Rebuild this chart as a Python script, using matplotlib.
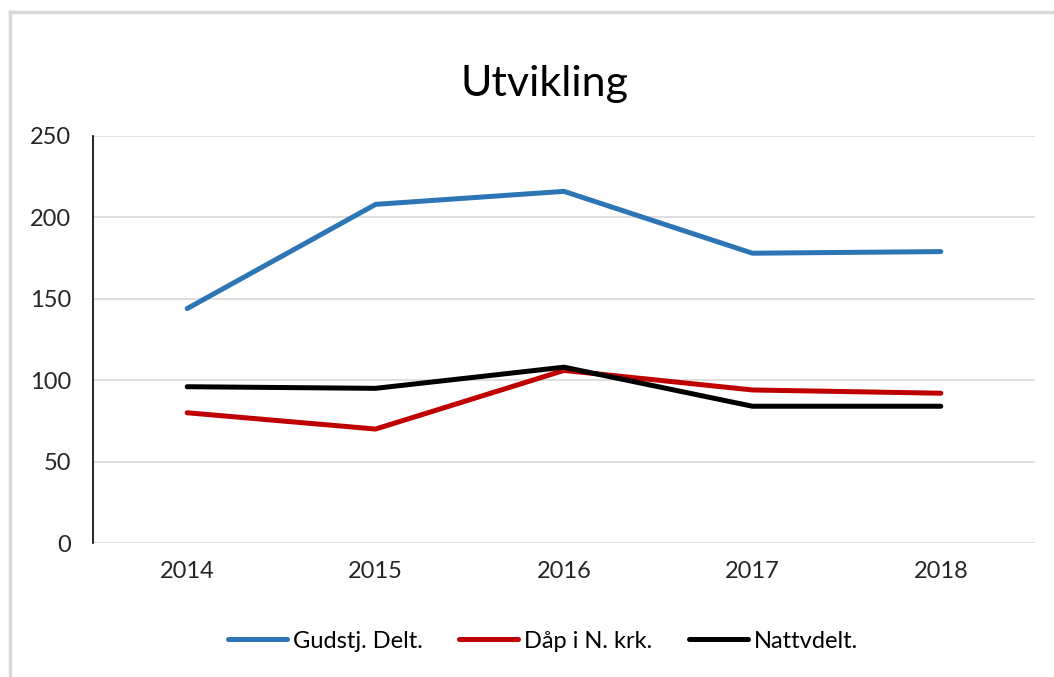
import numpy as np
import matplotlib
matplotlib.use('Agg')
import matplotlib.pyplot as plt
from matplotlib.lines import Line2D

plt.rcParams['font.family'] = ['Lato', 'DejaVu Sans']

years = ['2014', '2015', '2016', '2017', '2018']
gudstj = [144, 208, 216, 178, 179]
daap = [80, 70, 106, 94, 92]
nattvd = [96, 95, 108, 84, 84]
labels = ['Gudstj. Delt.', 'Dåp i N. krk.', 'Nattvdelt.']
colors = ['#2E75B6', '#C00000', '#000000']

fig = plt.figure(figsize=(10.54, 6.77), dpi=100)
ax = fig.add_axes([93/1054, 1 - 543/677, (1035-93)/1054, (543-136)/677])

# outer chart border (only top and left edges visible)
fig.add_artist(Line2D([10/1054, 10/1054], [0, 1 - 12/677], transform=fig.transFigure,
                      color='#D9D9D9', lw=2.5))
fig.add_artist(Line2D([10/1054, 1], [1 - 12/677, 1 - 12/677], transform=fig.transFigure,
                      color='#D9D9D9', lw=2.5))

x = np.arange(len(years))
for vals, lab, c in zip([gudstj, daap, nattvd], labels, colors):
    ax.plot(x, vals, color=c, lw=3.6, label=lab, solid_capstyle='round',
            solid_joinstyle='round')

ax.set_xlim(-0.5, len(years) - 0.5)
ax.set_ylim(0, 250)
ax.set_yticks(np.arange(0, 251, 50))
ax.set_xticks(x)
ax.set_xticklabels(years)
ax.yaxis.grid(True, color='#D9D9D9', lw=1.2)
ax.set_axisbelow(True)
for s in ['top', 'right', 'bottom']:
    ax.spines[s].set_visible(False)
ax.spines['left'].set_color('#000000')
ax.spines['left'].set_linewidth(1.2)
ax.tick_params(axis='both', length=0, labelsize=17, colors='#262626')
ax.tick_params(axis='y', pad=16)
ax.tick_params(axis='x', pad=13)

fig.text(545/1054, 1 - 84/677, 'Utvikling', ha='center', va='center',
         fontsize=31, color='#000000')

fig.legend(loc='center', bbox_to_anchor=(543/1054, 1 - 641/677), ncol=3,
           frameon=False, fontsize=17, handlelength=2.5, handletextpad=0.25,
           columnspacing=1.55)

fig.savefig('out.png', dpi=100, facecolor='white')
